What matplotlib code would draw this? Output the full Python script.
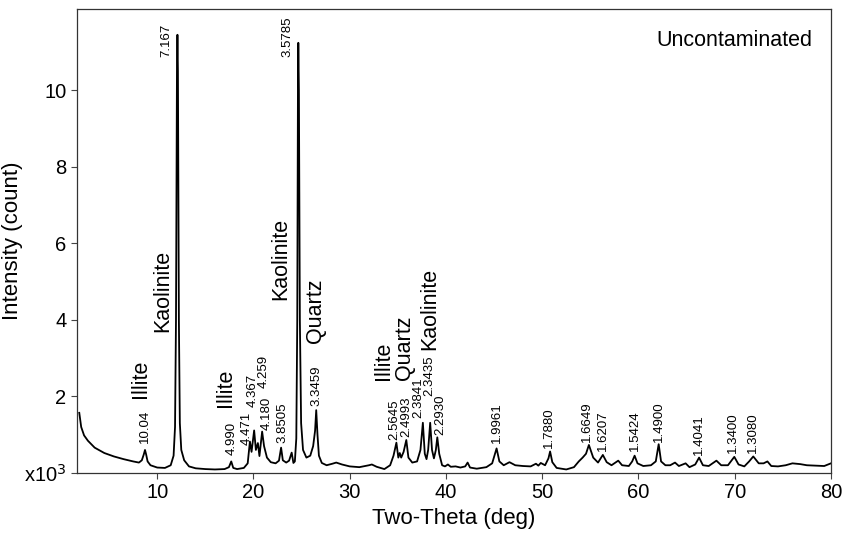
import matplotlib
matplotlib.use('Agg')
import matplotlib.pyplot as plt

plt.rcParams['font.family'] = ['Liberation Sans', 'DejaVu Sans']

# XRD trace (two-theta in deg, intensity in thousands of counts)
two_theta = [1.9, 2.1, 2.4, 2.8, 3.5, 4.5, 5.5, 6.5, 7.5, 8.1, 8.4, 8.6, 8.73, 8.85, 9.0, 9.3,
             10.0, 10.8, 11.4, 11.7, 11.85, 11.95, 12.05, 12.1, 12.15, 12.25, 12.35, 12.5, 12.8,
             13.3, 14.0, 15.0, 16.0, 17.0, 17.45, 17.69, 17.9, 18.3, 19.0, 19.4, 19.63, 19.8,
             20.07, 20.25, 20.46, 20.62, 20.9, 21.1, 21.4, 21.8, 22.3, 22.65, 22.87, 23.05, 23.4,
             23.7, 23.97, 24.15, 24.3, 24.45, 24.55, 24.62, 24.66, 24.72, 24.82, 24.95, 25.15,
             25.5, 25.9, 26.2, 26.4, 26.52, 26.65, 26.8, 27.1, 27.6, 28.2, 28.6, 29.2, 30.0, 31.0,
             32.0, 32.3, 32.8, 33.6, 34.2, 34.55, 34.85, 35.05, 35.2, 35.35, 35.6, 35.88, 36.1,
             36.5, 37.0, 37.35, 37.6, 37.8, 37.98, 38.15, 38.36, 38.55, 38.75, 38.95, 39.1, 39.3,
             39.6, 39.9, 40.2, 40.5, 41.0, 41.5, 42.0, 42.25, 42.5, 43.2, 44.2, 44.8, 45.26, 45.55,
             46.0, 46.6, 47.2, 48.0, 48.8, 49.35, 49.6, 49.85, 50.3, 50.65, 50.82, 51.05, 51.5,
             52.5, 53.3, 53.8, 54.2, 54.55, 54.85, 55.3, 55.8, 56.3, 56.7, 57.2, 57.9, 58.3, 59.0,
             59.35, 59.6, 59.9, 60.5, 61.3, 61.8, 62.1, 62.35, 62.8, 63.3, 63.8, 64.2, 64.9, 65.3,
             65.9, 66.3, 66.7, 67.3, 68.1, 68.6, 69.3, 69.96, 70.4, 71.0, 71.5, 71.93, 72.5, 73.0,
             73.4, 73.8, 74.5, 75.3, 76.0, 76.8, 77.5, 78.5, 79.3, 80.0]
intensity = [1.57, 1.2, 0.98, 0.84, 0.66, 0.52, 0.43, 0.36, 0.30, 0.27, 0.33, 0.48, 0.60, 0.48, 0.30, 0.20,
             0.14, 0.13, 0.2, 0.45, 1.2, 4.0, 10.5, 11.45, 10.5, 4.0, 1.3, 0.6, 0.33,
             0.17, 0.12, 0.1, 0.09, 0.1, 0.15, 0.30, 0.13, 0.1, 0.13, 0.25, 0.82, 0.55,
             1.11, 0.6, 0.78, 0.44, 1.08, 0.7, 0.4, 0.28, 0.25, 0.32, 0.66, 0.33, 0.27,
             0.32, 0.53, 0.26, 0.3, 0.9, 4.0, 10.0, 11.24, 10.0, 4.0, 1.3, 0.6,
             0.40, 0.45, 0.7, 1.1, 1.64, 1.0, 0.45, 0.26, 0.2, 0.24, 0.27, 0.22, 0.17, 0.15,
             0.2, 0.22, 0.16, 0.1, 0.2, 0.45, 0.79, 0.4, 0.52, 0.4, 0.55, 0.86, 0.4,
             0.27, 0.3, 0.6, 1.31, 0.5, 0.36, 0.6, 1.31, 0.6, 0.38, 0.6, 0.93, 0.5,
             0.2, 0.17, 0.22, 0.16, 0.17, 0.14, 0.17, 0.27, 0.14, 0.11, 0.15, 0.25, 0.64, 0.3,
             0.2, 0.28, 0.2, 0.18, 0.17, 0.24, 0.19, 0.26, 0.2, 0.38, 0.56, 0.28, 0.13,
             0.09, 0.15, 0.3, 0.4, 0.5, 0.73, 0.4, 0.27, 0.47, 0.28, 0.2, 0.32, 0.2, 0.18,
             0.3, 0.45, 0.25, 0.18, 0.2, 0.3, 0.75, 0.3, 0.2, 0.2, 0.27, 0.18, 0.25, 0.15,
             0.22, 0.40, 0.2, 0.18, 0.32, 0.2, 0.2, 0.42, 0.22, 0.17, 0.3, 0.43, 0.25, 0.25,
             0.30, 0.18, 0.17, 0.2, 0.25, 0.23, 0.2, 0.19, 0.18, 0.25]

# d-spacing annotations (text, two-theta, bottom of text)
d_labels = ['10.04', '4.990', '4.471', '4.367', '4.259', '4.180', '3.8505', '3.3459',
            '2.5645', '2.4993', '2.3841', '2.3435', '2.2930', '1.9961', '1.7880', '1.6649',
            '1.6207', '1.5424', '1.4900', '1.4041', '1.3400', '1.3080']
d_x = [8.7, 17.7, 19.25, 19.95, 21.1, 21.35, 23.0, 26.5,
       34.6, 35.9, 37.1, 38.3, 39.4, 45.3, 50.7, 54.7,
       56.3, 59.6, 62.1, 66.3, 69.8, 71.9]
d_y = [0.78, 0.47, 0.74, 1.73, 2.22, 1.12, 0.78, 1.74,
       0.86, 0.95, 1.44, 2.0, 0.99, 0.78, 0.65, 0.82,
       0.56, 0.56, 0.82, 0.47, 0.51, 0.51]

# the two big peaks carry their label to the left, hanging from the top
top_labels = ['7.167', '3.5785']
top_x = [11.55, 24.15]
top_y = [11.75, 11.92]

minerals = ['Illite', 'Kaolinite', 'Illite', 'Kaolinite', 'Quartz', 'Illite', 'Quartz', 'Kaolinite']
mineral_x = [8.3, 10.57, 17.05, 22.8, 26.45, 33.5, 35.7, 38.35]
mineral_y = [1.95, 3.69, 1.73, 4.52, 3.39, 2.43, 2.43, 3.22]

fig = plt.figure(figsize=(8.54, 5.38), dpi=100)
ax = fig.add_axes([0.090, 0.121, 0.883, 0.862])

ax.plot(two_theta, intensity, color='black', lw=1.3)

for t, x, y in zip(d_labels, d_x, d_y):
    ax.text(x, y, t, rotation=90, ha='center', va='bottom', fontsize=9.5)
for t, x, y in zip(top_labels, top_x, top_y):
    ax.text(x, y, t, rotation=90, ha='right', va='top', fontsize=9.5)
for t, x, y in zip(minerals, mineral_x, mineral_y):
    ax.text(x, y, t, rotation=90, ha='center', va='bottom', fontsize=15.5)

ax.text(0.975, 0.955, 'Uncontaminated', transform=ax.transAxes, ha='right', va='top', fontsize=15.5)

ax.set_xlim(1.65, 80)
ax.set_ylim(0, 12.12)
ax.set_xticks(range(10, 81, 10))
ax.set_yticks([0, 2, 4, 6, 8, 10])
ax.set_yticklabels(['x10$^3$', '2', '4', '6', '8', '10'])
ax.tick_params(labelsize=14.5, length=4, width=0.8, color='#444444', direction='out')
for s in ax.spines.values():
    s.set_color('#333333')
    s.set_linewidth(0.9)

ax.set_xlabel('Two-Theta (deg)', fontsize=16)
ax.set_ylabel('Intensity (count)', fontsize=16)
ax.yaxis.set_label_coords(-0.072, 0.5)

fig.savefig('out.png', dpi=100)
